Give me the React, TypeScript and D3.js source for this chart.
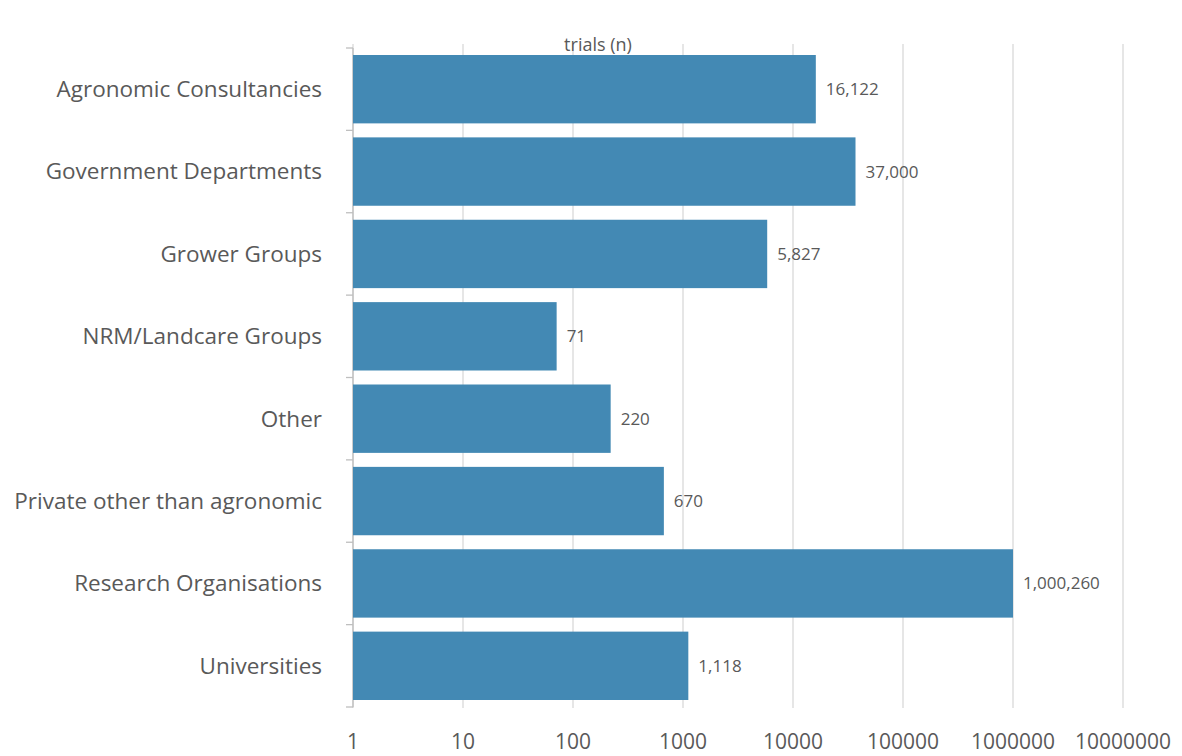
import React, { useEffect, useRef } from 'react';
import * as d3 from 'd3';

const categories = [
  'Agronomic Consultancies',
  'Government Departments',
  'Grower Groups',
  'NRM/Landcare Groups',
  'Other',
  'Private other than agronomic',
  'Research Organisations',
  'Universities',
];
const trials = [16122, 37000, 5827, 71, 220, 670, 1000260, 1118];
const tickValues = [1, 10, 100, 1000, 10000, 100000, 1000000, 10000000];

const W = 1182;
const H = 756;

const App: React.FC = () => {
  const svgRef = useRef<SVGSVGElement>(null);

  useEffect(() => {
    if (!svgRef.current) return;
    const svg = d3.select(svgRef.current);
    svg.selectAll('*').remove();

    const left = 353;
    const right = 1123;
    const top = 48;
    const bottom = 707;
    const font = "'Open Sans', sans-serif";
    const grey = '#595959';

    const x = d3.scaleLog().domain([1, 10000000]).range([left, right]);
    const y = d3
      .scaleBand()
      .domain(categories)
      .range([top, bottom])
      .paddingInner(0.17)
      .paddingOuter(0.085);

    // gridlines
    svg.append('g')
      .selectAll('line')
      .data(tickValues)
      .enter()
      .append('line')
      .attr('x1', d => x(d))
      .attr('x2', d => x(d))
      .attr('y1', top - 4)
      .attr('y2', bottom + 1)
      .attr('stroke', '#d9d9d9')
      .attr('stroke-width', 1.3);

    // y axis line and ticks
    svg.append('line')
      .attr('x1', left).attr('x2', left)
      .attr('y1', top).attr('y2', bottom)
      .attr('stroke', '#bfbfbf')
      .attr('stroke-width', 1.3);

    const step = (bottom - top) / categories.length;
    svg.append('g')
      .selectAll('line')
      .data(d3.range(categories.length + 1))
      .enter()
      .append('line')
      .attr('x1', left - 7)
      .attr('x2', left)
      .attr('y1', i => top + i * step)
      .attr('y2', i => top + i * step)
      .attr('stroke', '#bfbfbf')
      .attr('stroke-width', 1.3);

    // bars
    svg.append('g')
      .selectAll('rect')
      .data(categories)
      .enter()
      .append('rect')
      .attr('x', left)
      .attr('y', d => y(d)!)
      .attr('width', (d, i) => x(trials[i]) - left)
      .attr('height', y.bandwidth())
      .attr('fill', '#4389b4');

    // value labels
    svg.append('g')
      .selectAll('text')
      .data(categories)
      .enter()
      .append('text')
      .attr('x', (d, i) => x(trials[i]) + 10)
      .attr('y', d => y(d)! + y.bandwidth() / 2)
      .attr('dy', '0.35em')
      .style('font-family', font)
      .style('font-size', '17px')
      .style('fill', grey)
      .text((d, i) => d3.format(',')(trials[i]));

    // category labels
    svg.append('g')
      .selectAll('text')
      .data(categories)
      .enter()
      .append('text')
      .attr('x', 322)
      .attr('y', d => y(d)! + y.bandwidth() / 2)
      .attr('dy', '0.35em')
      .attr('text-anchor', 'end')
      .style('font-family', font)
      .style('font-size', '22.5px')
      .style('fill', grey)
      .text(d => d);

    // x tick labels
    svg.append('g')
      .selectAll('text')
      .data(tickValues)
      .enter()
      .append('text')
      .attr('x', d => x(d))
      .attr('y', 749)
      .attr('text-anchor', 'middle')
      .style('font-family', font)
      .style('font-size', '21px')
      .style('fill', grey)
      .text(d => String(d));

    // axis title
    svg.append('text')
      .attr('x', 598)
      .attr('y', 51)
      .attr('text-anchor', 'middle')
      .style('font-family', font)
      .style('font-size', '18px')
      .style('fill', grey)
      .text('trials (n)');
  }, []);

  return (
    <svg
      ref={svgRef}
      width={W}
      height={H}
      style={{ position: 'absolute', left: 0, top: 0, background: '#fff' }}
    />
  );
};

export default App;
